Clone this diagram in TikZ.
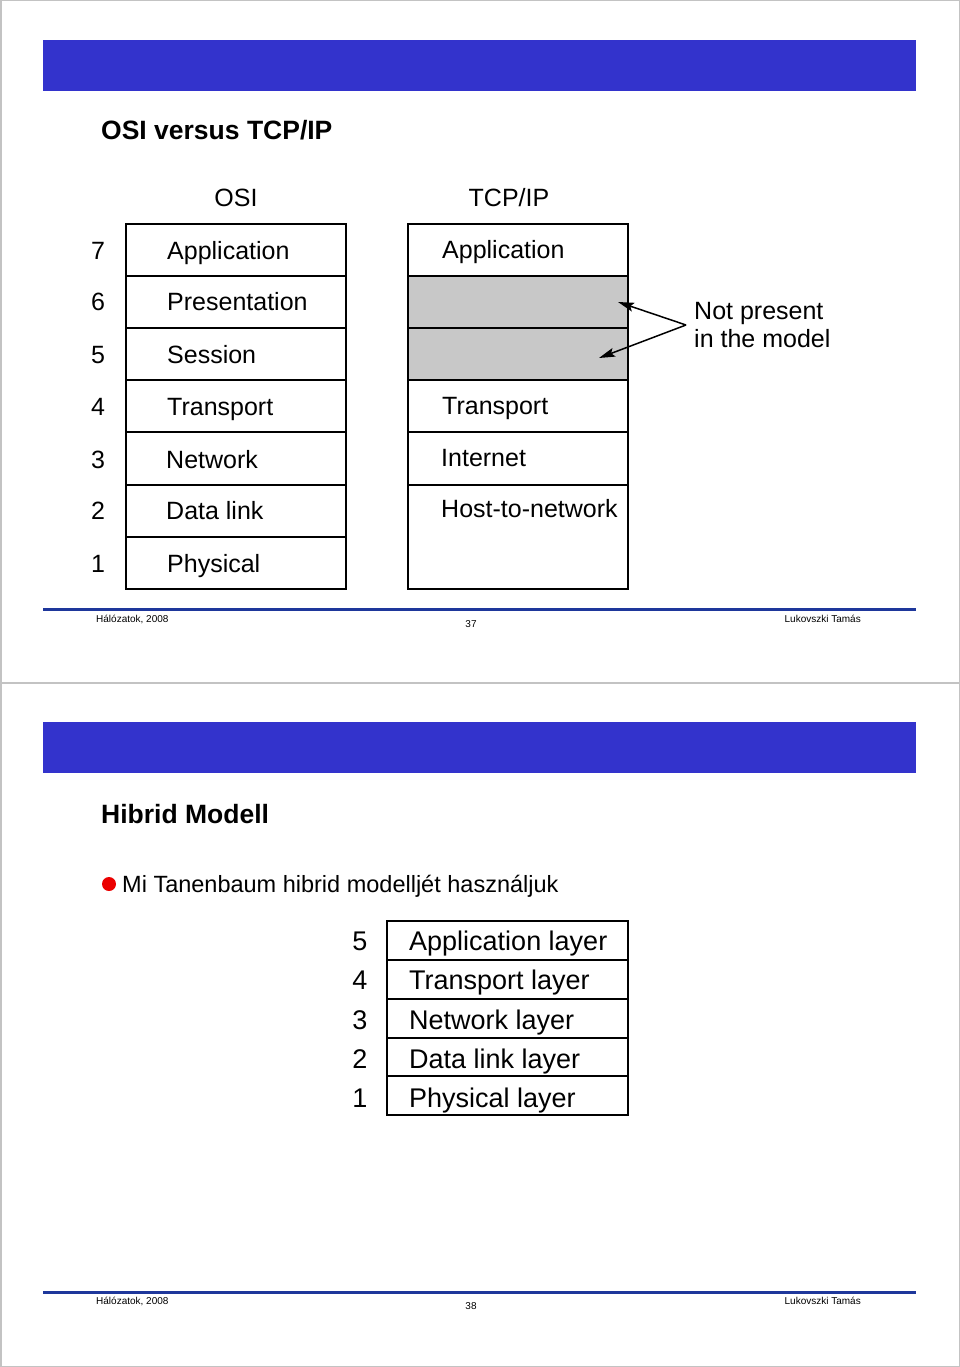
\documentclass[tikz,border=0pt]{standalone}
\usepackage{fontspec}
\setmainfont{Liberation Sans}
\usetikzlibrary{arrows.meta}
\definecolor{barblue}{RGB}{51,51,204}
\definecolor{footblue}{RGB}{30,55,155}
\definecolor{framegray}{RGB}{195,195,195}
\definecolor{cellgray}{RGB}{200,200,200}
\definecolor{bulletred}{RGB}{235,0,0}
\begin{document}
\begin{tikzpicture}[x=1pt,y=-1pt,
  tbl/.style={line width=1.8pt},
  div/.style={line width=1.5pt},
  lbl/.style={anchor=base west, inner sep=0pt, font=\fontsize{25}{30}\selectfont},
  num/.style={anchor=base, inner sep=0pt, font=\fontsize{25}{30}\selectfont},
  lblb/.style={anchor=base west, inner sep=0pt, font=\fontsize{27}{32}\selectfont},
  numb/.style={anchor=base, inner sep=0pt, font=\fontsize{27}{32}\selectfont},
  ttl/.style={anchor=base west, inner sep=0pt, font=\bfseries\fontsize{26.5}{31}\selectfont},
  foot/.style={inner sep=0pt, font=\fontsize{10}{12}\selectfont},
  bar/.style={fill=barblue},
  fline/.style={draw=footblue, line width=3pt},
  arr/.style={line width=1.5pt, -{Stealth[length=16pt,width=9pt,inset=3pt]}}
]
\fill[white] (0,0) rectangle (960,1367);
\useasboundingbox (0,0) rectangle (960,1367);
% frames
\draw[framegray, line width=1.5pt] (0.75,0.75) rectangle (959.25,1366.25);
\draw[framegray, line width=1.5pt] (0,683) -- (960,683);

% ===== Slide 1 =====
\fill[bar] (43,40) rectangle (916,91);
\node[ttl] (title1) at (101,140) {OSI versus TCP/IP};

\node[num] (hosi) at (236,207) {OSI};
\node[num] (htcp) at (509,207) {TCP/IP};

% OSI table
\draw[tbl] (126,224) rectangle (346,589);
\foreach \y in {276,328,380,432,485,537} \draw[div] (127,\y) -- (345,\y);
\node[num] (n7) at (98,259) {7};
\node[num] (n6) at (98,310) {6};
\node[num] (n5) at (98,363) {5};
\node[num] (n4) at (98,415) {4};
\node[num] (n3) at (98,468) {3};
\node[num] (n2) at (98,519) {2};
\node[num] (n1) at (98,572) {1};
\node[lbl] (o7) at (167,259) {Application};
\node[lbl] (o6) at (167,310) {Presentation};
\node[lbl] (o5) at (167,363) {Session};
\node[lbl] (o4) at (167,415) {Transport};
\node[lbl] (o3) at (166,468) {Network};
\node[lbl] (o2) at (166,519) {Data link};
\node[lbl] (o1) at (167,572) {Physical};

% TCP/IP table
\fill[cellgray] (408,276) rectangle (628,380);
\draw[tbl] (408,224) rectangle (628,589);
\foreach \y in {276,328,380,432,485} \draw[div] (409,\y) -- (627,\y);
\node[lbl] (t5) at (442,258) {Application};
\node[lbl] (t4) at (442,414) {Transport};
\node[lbl] (t3) at (441,466) {Internet};
\node[lbl] (t1) at (441,517) {Host-to-network};

% annotation
\node[lbl] (np1) at (694,319) {Not present};
\node[lbl] (np2) at (694,347) {in the model};
\coordinate (npc) at (686,325);
\coordinate (tipa) at (618,302);
\coordinate (tipb) at (599,358);
\draw[arr] (npc) -- (tipa);
\draw[arr] (npc) -- (tipb);

% footer 1
\draw[fline] (43,609) -- (916,609);
\node[foot, anchor=base west] (f1l) at (96,622) {Hálózatok, 2008};
\node[foot, anchor=base] (f1c) at (471,627) {37};
\node[foot, anchor=base east] (f1r) at (861,622) {Lukovszki Tamás};

% ===== Slide 2 =====
\fill[bar] (43,722) rectangle (916,773);
\node[ttl] (title2) at (101,823) {Hibrid Modell};

\node[circle, fill=bulletred, minimum size=14pt, inner sep=0pt] (bul) at (109,884) {};
\node[anchor=base west, inner sep=0pt, font=\fontsize{23.5}{28}\selectfont] (btxt) at (122,892) {Mi Tanenbaum hibrid modelljét használjuk};

\draw[tbl] (387,921) rectangle (628,1115);
\foreach \y in {960,999,1038,1076} \draw[div] (388,\y) -- (627,\y);
\node[numb] (m5) at (360,950) {5};
\node[numb] (m4) at (360,989) {4};
\node[numb] (m3) at (360,1029) {3};
\node[numb] (m2) at (360,1068) {2};
\node[numb] (m1) at (360,1107) {1};
\node[lblb] (h5) at (409,950) {Application layer};
\node[lblb] (h4) at (409,989) {Transport layer};
\node[lblb] (h3) at (409,1029) {Network layer};
\node[lblb] (h2) at (409,1068) {Data link layer};
\node[lblb] (h1) at (409,1107) {Physical layer};

% footer 2
\draw[fline] (43,1292) -- (916,1292);
\node[foot, anchor=base west] (f2l) at (96,1304) {Hálózatok, 2008};
\node[foot, anchor=base] (f2c) at (471,1309) {38};
\node[foot, anchor=base east] (f2r) at (861,1304) {Lukovszki Tamás};
\end{tikzpicture}
\end{document}
